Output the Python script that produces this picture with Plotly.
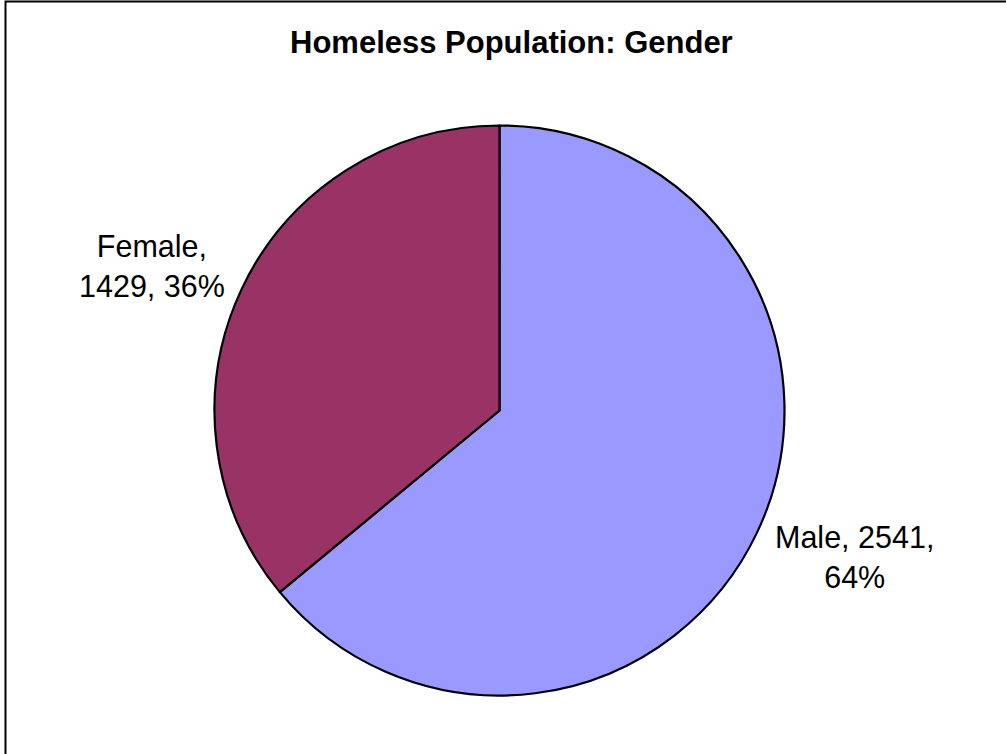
import plotly.graph_objects as go

# Homeless population split by gender
genders = ["Male", "Female"]
counts = [2541, 1429]
colors = ["#9999FF", "#993366"]

W, H = 1006, 754
CX, CY, R = 499.5, 410.5, 285  # pie centre and radius in pixels


def px_x(x):
    return x / W


def px_y(y):
    return 1 - y / H


total = sum(counts)
pcts = [round(100 * c / total) for c in counts]

fig = go.Figure(
    go.Pie(
        labels=genders,
        values=counts,
        sort=False,
        direction="clockwise",
        rotation=0,
        marker=dict(colors=colors, line=dict(color="black", width=2.2)),
        textinfo="none",
        hoverinfo="label+value+percent",
        showlegend=False,
        domain=dict(
            x=[px_x(CX - R), px_x(CX + R)],
            y=[px_y(CY + R), px_y(CY - R)],
        ),
    )
)

label_font = dict(family="Liberation Sans, Arial, sans-serif", size=30.5, color="black")

# Outside data labels: "Name, count, percent"
fig.add_annotation(
    x=px_x(152), y=px_y(266), xref="paper", yref="paper",
    text=f"{genders[1]},<br>{counts[1]}, {pcts[1]}%",
    showarrow=False, xanchor="center", yanchor="middle", align="center",
    font=label_font,
)
fig.add_annotation(
    x=px_x(854), y=px_y(557), xref="paper", yref="paper",
    text=f"{genders[0]}, {counts[0]},<br>{pcts[0]}%",
    showarrow=False, xanchor="center", yanchor="middle", align="center",
    font=label_font,
)

# Chart title
fig.add_annotation(
    x=px_x(511), y=px_y(43), xref="paper", yref="paper",
    text="<b>Homeless Population: Gender</b>",
    showarrow=False, xanchor="center", yanchor="middle",
    font=dict(family="Liberation Sans, Arial, sans-serif", size=31, color="black"),
)

# Chart-area frame (right and bottom edges run off the page)
fig.add_shape(
    type="rect", xref="paper", yref="paper",
    x0=px_x(5.5), x1=px_x(W + 20), y0=px_y(H + 20), y1=px_y(1.5),
    line=dict(color="black", width=2), fillcolor="rgba(0,0,0,0)", layer="above",
)

fig.update_layout(
    width=W, height=H,
    margin=dict(l=0, r=0, t=0, b=0),
    paper_bgcolor="white", plot_bgcolor="white",
)

fig.write_html("out.html")
